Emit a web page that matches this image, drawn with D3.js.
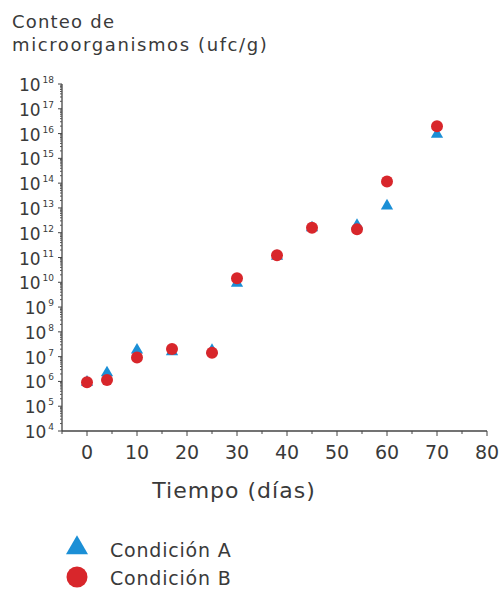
<!DOCTYPE html>
<html>
<head>
<meta charset="utf-8">
<script src="https://cdn.jsdelivr.net/npm/d3@7"></script>
<style>
  body { margin: 0; background: #fff; }
  text { font-family: "DejaVu Sans", Verdana, sans-serif; fill: #3a3a3a; }
</style>
</head>
<body>
<script>
var w = 500;
var h = 589;

// days sampled
var dias = [0, 4, 10, 17, 25, 30, 38, 45, 54, 60, 70];
// log10 of ufc/g
var condA = [5.97, 6.35, 7.27, 7.2, 7.25, 9.96, 11.05, 12.2, 12.3, 13.08, 15.97];
var condB = [5.97, 6.06, 6.97, 7.31, 7.16, 10.16, 11.09, 12.2, 12.14, 14.07, 16.3];

var xTicks = [0, 10, 20, 30, 40, 50, 60, 70, 80];
var yExps = [4, 5, 6, 7, 8, 9, 10, 11, 12, 13, 14, 15, 16, 17, 18];

var colorA = "#1b8fd6";
var colorB = "#d8262b";

var svg = d3.select("body").append("svg")
  .attr("width", w)
  .attr("height", h);

var xScale = d3.scaleLinear().domain([-5, 80]).range([62, 487]);
var yScale = d3.scaleLog().domain([1e4, 1e18]).range([431, 84]);

// title
svg.append("text").attr("x", 12).attr("y", 28)
  .style("font-size", "18px").style("letter-spacing", "1.2px").text("Conteo de");
svg.append("text").attr("x", 12).attr("y", 51)
  .style("font-size", "18px").style("letter-spacing", "1.6px").text("microorganismos (ufc/g)");

// x axis
var gx = svg.append("g").attr("transform", "translate(0,431)");
gx.append("line")
  .attr("x1", xScale(-5)).attr("x2", xScale(80))
  .attr("stroke", "#444").attr("stroke-width", 1.3);
var minorX = d3.range(-5, 80, 10);
gx.selectAll("line.minor").data(minorX).enter().append("line")
  .attr("x1", function (d) { return xScale(d); })
  .attr("x2", function (d) { return xScale(d); })
  .attr("y1", 0).attr("y2", 3)
  .attr("stroke", "#444");
gx.selectAll("line.major").data(xTicks).enter().append("line")
  .attr("x1", function (d) { return xScale(d); })
  .attr("x2", function (d) { return xScale(d); })
  .attr("y1", 0).attr("y2", 5)
  .attr("stroke", "#444");
gx.selectAll("text").data(xTicks).enter().append("text")
  .attr("x", function (d) { return xScale(d); })
  .attr("y", 28)
  .attr("text-anchor", "middle")
  .style("font-size", "19px")
  .text(function (d) { return d; });

svg.append("text")
  .attr("x", 234).attr("y", 498)
  .attr("text-anchor", "middle")
  .style("font-size", "22px")
  .style("letter-spacing", "1px")
  .text("Tiempo (días)");

// y axis
var gy = svg.append("g").attr("transform", "translate(62,0)");
gy.append("line")
  .attr("y1", yScale(1e4)).attr("y2", yScale(1e18))
  .attr("stroke", "#444").attr("stroke-width", 1.3);
var minorY = [];
yExps.slice(0, -1).forEach(function (e) {
  for (var k = 2; k < 10; k++) minorY.push(k * Math.pow(10, e));
});
gy.selectAll("line.minor").data(minorY).enter().append("line")
  .attr("y1", function (d) { return yScale(d); })
  .attr("y2", function (d) { return yScale(d); })
  .attr("x1", -2).attr("x2", 0)
  .attr("stroke", "#555");
gy.selectAll("line.major").data(yExps).enter().append("line")
  .attr("y1", function (d) { return yScale(Math.pow(10, d)); })
  .attr("y2", function (d) { return yScale(Math.pow(10, d)); })
  .attr("x1", -4).attr("x2", 0)
  .attr("stroke", "#444");
var ylab = gy.selectAll("text").data(yExps).enter().append("text")
  .attr("x", -8)
  .attr("y", function (d) { return yScale(Math.pow(10, d)) + 7; })
  .attr("text-anchor", "end")
  .style("font-size", "17px");
ylab.append("tspan").text("10");
ylab.append("tspan")
  .attr("dy", -8)
  .attr("dx", 2)
  .style("font-size", "9px")
  .text(function (d) { return d; });

// markers
var tri = d3.symbol().type(d3.symbolTriangle).size(65);
svg.selectAll("path.a").data(dias).enter().append("path")
  .attr("d", tri)
  .attr("transform", function (d, i) {
    return "translate(" + xScale(d) + "," + yScale(Math.pow(10, condA[i])) + ")";
  })
  .attr("fill", colorA);

svg.selectAll("circle.b").data(dias).enter().append("circle")
  .attr("cx", function (d) { return xScale(d); })
  .attr("cy", function (d, i) { return yScale(Math.pow(10, condB[i])); })
  .attr("r", 6)
  .attr("fill", colorB);

// legend
var legend = svg.append("g");
legend.append("path")
  .attr("d", d3.symbol().type(d3.symbolTriangle).size(210))
  .attr("transform", "translate(77,548)")
  .attr("fill", colorA);
legend.append("circle")
  .attr("cx", 77).attr("cy", 577).attr("r", 10.5)
  .attr("fill", colorB);
legend.append("text").attr("x", 110).attr("y", 557)
  .style("font-size", "19px").style("letter-spacing", "0.8px").text("Condición A");
legend.append("text").attr("x", 110).attr("y", 585)
  .style("font-size", "19px").style("letter-spacing", "0.8px").text("Condición B");
</script>
</body>
</html>
